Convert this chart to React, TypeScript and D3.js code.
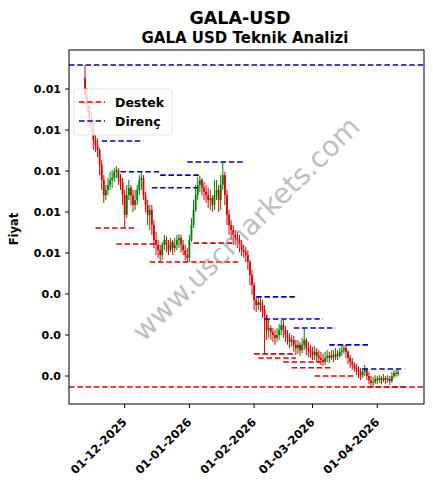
import React from "react";
import * as d3 from "d3";

// ---- data ----
const startDate = "2025-11-12";
const firstOpen = 0.00927;
const closes = [
  0.00885, 0.00861, 0.00829, 0.00812, 0.00776, 0.00763, 0.00751, 0.00715, 0.00678, 0.00641,
  0.00654, 0.00666, 0.00678, 0.00683, 0.00698, 0.00702, 0.00683, 0.00673, 0.00641, 0.00593,
  0.00641, 0.00659, 0.00641, 0.00617, 0.00629, 0.00654, 0.00678, 0.00683, 0.00641, 0.00617,
  0.00593, 0.00605, 0.00568, 0.00532, 0.0052, 0.00507, 0.00495, 0.0052, 0.00532, 0.0052,
  0.00507, 0.00527, 0.00512, 0.0052, 0.00532, 0.00537, 0.0052, 0.00507, 0.00495, 0.00488,
  0.00532, 0.00568, 0.00605, 0.00641, 0.00666, 0.00678, 0.00659, 0.00649, 0.00641, 0.00629,
  0.00634, 0.00617, 0.00641, 0.00654, 0.00629, 0.00666, 0.0069, 0.00641, 0.00593, 0.00568,
  0.00556, 0.00544, 0.00537, 0.00532, 0.0052, 0.00507, 0.00502, 0.00495, 0.00478, 0.00446,
  0.00422, 0.00385, 0.00373, 0.0038, 0.00373, 0.00361, 0.00349, 0.00312, 0.00317, 0.00307,
  0.003, 0.00293, 0.003, 0.00312, 0.00324, 0.00312, 0.003, 0.00293, 0.00283, 0.00288,
  0.00276, 0.00268, 0.00276, 0.00263, 0.00276, 0.00288, 0.00268, 0.00263, 0.00259, 0.00251,
  0.00259, 0.00249, 0.00244, 0.00239, 0.00234, 0.00244, 0.00249, 0.00244, 0.00251, 0.00246,
  0.00254, 0.00249, 0.00259, 0.00263, 0.00268, 0.00259, 0.00244, 0.00234, 0.00227, 0.0022,
  0.00215, 0.0021, 0.00202, 0.0021, 0.00215, 0.002, 0.0019, 0.00183, 0.00185, 0.00193,
  0.0019, 0.00195, 0.0019, 0.00195, 0.0019, 0.00193, 0.00188, 0.002, 0.00207, 0.00205, 0.0021,
];
const highs = [
  0.009585, 0.00902, 0.00854, 0.00844, 0.00824, 0.00788, 0.0078, 0.00756, 0.00727, 0.0069,
  0.00666, 0.00683, 0.00698, 0.00702, 0.00707, 0.00712, 0.00707, 0.00693, 0.00683, 0.00654,
  0.00666, 0.00678, 0.00666, 0.00654, 0.00654, 0.00666, 0.0069, 0.00698, 0.0069, 0.00649,
  0.00629, 0.00617, 0.00617, 0.0058, 0.00551, 0.00532, 0.0052, 0.00527, 0.00544, 0.00541,
  0.00532, 0.00537, 0.00532, 0.00537, 0.00544, 0.00546, 0.00544, 0.00532, 0.0052, 0.00512,
  0.00544, 0.00585, 0.00629, 0.00666, 0.00685, 0.00688, 0.00683, 0.00673, 0.00666, 0.00659,
  0.00654, 0.00641, 0.00678, 0.00678, 0.00666, 0.0069, 0.00722, 0.00698, 0.00654, 0.00605,
  0.0058, 0.00568, 0.00556, 0.00551, 0.00544, 0.00532, 0.0052, 0.00515, 0.00507, 0.00483,
  0.00459, 0.00429, 0.00393, 0.0039, 0.0039, 0.00385, 0.00373, 0.00341, 0.00337, 0.00324,
  0.00317, 0.00312, 0.00317, 0.00327, 0.00337, 0.00337, 0.00322, 0.00312, 0.00305, 0.003,
  0.00298, 0.00288, 0.00288, 0.00283, 0.00293, 0.00317, 0.00293, 0.00283, 0.00276, 0.00271,
  0.00273, 0.00268, 0.00263, 0.00259, 0.00254, 0.00259, 0.00263, 0.00259, 0.00263, 0.00263,
  0.00268, 0.00263, 0.00268, 0.00273, 0.00276, 0.00276, 0.00263, 0.00251, 0.00244, 0.00234,
  0.00229, 0.00224, 0.0022, 0.0022, 0.00227, 0.0022, 0.0021, 0.002, 0.00198, 0.00202,
  0.002, 0.00202, 0.002, 0.00205, 0.002, 0.00202, 0.002, 0.0021, 0.00215, 0.00215, 0.00217,
];
const lows = [
  0.00873, 0.00844, 0.00805, 0.00795, 0.00751, 0.00746, 0.00734, 0.0069, 0.00654, 0.00622,
  0.00629, 0.00641, 0.00654, 0.00659, 0.00673, 0.00683, 0.00666, 0.00654, 0.00617, 0.00561,
  0.00585, 0.00629, 0.00617, 0.006, 0.00605, 0.00617, 0.00641, 0.00654, 0.00629, 0.006,
  0.00568, 0.00556, 0.00544, 0.00512, 0.00495, 0.00488, 0.00478, 0.00483, 0.00507, 0.00502,
  0.00495, 0.00502, 0.00495, 0.00502, 0.00507, 0.00512, 0.00502, 0.00495, 0.00483, 0.00478,
  0.00478, 0.00527, 0.00561, 0.006, 0.00629, 0.00649, 0.00641, 0.00629, 0.00622, 0.0061,
  0.00605, 0.006, 0.00605, 0.00629, 0.006, 0.00605, 0.00654, 0.00617, 0.00568, 0.00544,
  0.00532, 0.0052, 0.0052, 0.00512, 0.00502, 0.00493, 0.00488, 0.00478, 0.00459, 0.00422,
  0.00398, 0.00361, 0.00356, 0.00361, 0.00356, 0.00341, 0.00256, 0.00288, 0.00293, 0.00288,
  0.00283, 0.00276, 0.00283, 0.00288, 0.003, 0.00293, 0.00283, 0.00276, 0.00268, 0.00271,
  0.00259, 0.00251, 0.00254, 0.00249, 0.00256, 0.00263, 0.00251, 0.00246, 0.00244, 0.00239,
  0.00239, 0.00234, 0.00232, 0.00227, 0.00224, 0.00227, 0.00234, 0.00232, 0.00239, 0.00234,
  0.00239, 0.00239, 0.00244, 0.00249, 0.00254, 0.00244, 0.00229, 0.0022, 0.00215, 0.0021,
  0.00202, 0.00195, 0.0019, 0.00195, 0.002, 0.0019, 0.0018, 0.00176, 0.00173, 0.0018,
  0.0018, 0.00183, 0.0018, 0.00185, 0.0018, 0.00183, 0.00178, 0.00183, 0.00195, 0.00198, 0.002,
];

// support (Destek) and resistance (Direnç) levels: [level, from, to]
const supportLevels: [number, string, string][] = [
  [0.00173, "2025-11-04", "2026-04-24"],
  [0.00561, "2025-11-17", "2025-12-06"],
  [0.00522, "2025-11-27", "2025-12-16"],
  [0.00524, "2026-01-03", "2026-01-23"],
  [0.00478, "2025-12-13", "2026-01-25"],
  [0.00254, "2026-02-01", "2026-02-20"],
  [0.00244, "2026-02-03", "2026-02-21"],
  [0.00234, "2026-02-15", "2026-03-05"],
  [0.0022, "2026-02-19", "2026-03-10"],
  [0.002, "2026-03-02", "2026-03-21"],
  [0.00173, "2026-03-27", "2026-04-15"],
];
const resistanceLevels: [number, string, string][] = [
  [0.009585, "2025-11-04", "2026-04-24"],
  [0.00773, "2025-11-20", "2025-12-10"],
  [0.00698, "2025-11-29", "2025-12-18"],
  [0.0069, "2025-12-18", "2026-01-06"],
  [0.00659, "2025-12-14", "2026-01-05"],
  [0.00722, "2025-12-31", "2026-01-27"],
  [0.00393, "2026-02-02", "2026-02-21"],
  [0.00339, "2026-02-06", "2026-03-06"],
  [0.00317, "2026-02-20", "2026-03-12"],
  [0.00276, "2026-03-09", "2026-03-28"],
  [0.00217, "2026-03-25", "2026-04-14"],
];

const yTickValues = [0.002, 0.003, 0.004, 0.005, 0.006, 0.007, 0.008, 0.009];
const xTickDates = ["2025-12-01", "2026-01-01", "2026-02-01", "2026-03-01", "2026-04-01"];

const title = "GALA-USD";
const subtitle = "GALA USD Teknik Analizi";
const yLabel = "Fiyat";
const legendLabels = ["Destek", "Direnç"];
const watermark = "www.uscmarkets.com";

// ---- layout ----
const W = 433;
const H = 489;
const plot = { left: 69, right: 424, top: 50, bottom: 404 };
const FONT = "DejaVu Sans, sans-serif";
const RED = "#e00000";
const BLUE = "#0000c8";

const parse = (s: string) => new Date(s + "T00:00:00Z");

export default function App() {
  const start = parse(startDate);
  const candles = closes.map((c, i) => {
    const date = new Date(start.getTime() + i * 86400000);
    const open = i === 0 ? firstOpen : closes[i - 1];
    return {
      date,
      open,
      close: c,
      high: Math.max(highs[i], open, c),
      low: Math.min(lows[i], open, c),
    };
  });

  const x = d3
    .scaleUtc()
    .domain([new Date(Date.UTC(2025, 10, 4, 8)), new Date(Date.UTC(2026, 3, 23, 9))])
    .range([plot.left, plot.right]);
  const y = d3.scaleLinear().domain([0.0013171, 0.0099512]).range([plot.bottom, plot.top]);

  const fmtY = (v: number) => {
    const r = Math.round(v * 100) / 100;
    return r === 0 ? "0.0" : r.toFixed(2);
  };
  const fmtX = d3.utcFormat("%d-%m-%Y");

  const bodyW = 1.8;

  const levelLine = (lv: [number, string, string], color: string, key: string) => {
    const x1 = Math.max(plot.left, x(parse(lv[1])));
    const x2 = Math.min(plot.right, x(parse(lv[2])));
    return (
      <line
        key={key}
        x1={x1}
        x2={x2}
        y1={y(lv[0])}
        y2={y(lv[0])}
        stroke={color}
        strokeWidth={1.6}
        strokeDasharray="5.5,2.8"
      />
    );
  };

  const wmX = 246;
  const wmY = 229;

  return (
    <svg
      width={W}
      height={H}
      style={{ position: "absolute", left: 0, top: 0, background: "#fff" }}
      fontFamily={FONT}
    >
      <rect x={0} y={0} width={W} height={H} fill="#fff" />
      <text x={240} y={24} textAnchor="middle" fontSize={17.5} fontWeight="bold">
        {title}
      </text>
      <text x={245} y={43} textAnchor="middle" fontSize={15} fontWeight="bold">
        {subtitle}
      </text>

      <defs>
        <clipPath id="plotclip">
          <rect x={plot.left} y={plot.top} width={plot.right - plot.left} height={plot.bottom - plot.top} />
        </clipPath>
      </defs>

      <g clipPath="url(#plotclip)">
        {candles.map((c, i) => {
          const up = c.close >= c.open;
          const col = up ? "#008000" : RED;
          const cx = x(c.date);
          const yo = y(c.open);
          const yc = y(c.close);
          const top = Math.min(yo, yc);
          const h = Math.max(0.8, Math.abs(yo - yc));
          return (
            <g key={i}>
              <line x1={cx} x2={cx} y1={y(c.high)} y2={y(c.low)} stroke={col} strokeWidth={1} />
              <rect x={cx - bodyW / 2} y={top} width={bodyW} height={h} fill={col} />
            </g>
          );
        })}
        {supportLevels.map((lv, i) => levelLine(lv, RED, "s" + i))}
        {resistanceLevels.map((lv, i) => levelLine(lv, BLUE, "r" + i))}
      </g>

      <text
        x={wmX}
        y={wmY}
        textAnchor="middle"
        dominantBaseline="central"
        fontSize={28}
        fill="#999"
        fillOpacity={0.65}
        transform={`rotate(-44.5 ${wmX} ${wmY})`}
      >
        {watermark}
      </text>

      {/* legend */}
      <g>
        <rect x={74} y={89} width={98} height={46} rx={3} fill="#fff" fillOpacity={0.8} stroke="#ddd" strokeOpacity={0.8} />
        <line x1={79} x2={105} y1={102} y2={102} stroke={RED} strokeWidth={1.6} strokeDasharray="5.5,2.8" />
        <text x={115} y={107} fontSize={12.5} fontWeight="bold">
          {legendLabels[0]}
        </text>
        <line x1={79} x2={105} y1={121} y2={121} stroke={BLUE} strokeWidth={1.6} strokeDasharray="5.5,2.8" />
        <text x={115} y={126} fontSize={12.5} fontWeight="bold">
          {legendLabels[1]}
        </text>
      </g>

      {/* frame */}
      <rect
        x={plot.left}
        y={plot.top}
        width={plot.right - plot.left}
        height={plot.bottom - plot.top}
        fill="none"
        stroke="#000"
        strokeWidth={1}
      />

      {/* y axis */}
      {yTickValues.map((v, i) => (
        <g key={"y" + i}>
          <line x1={plot.left - 4} x2={plot.left} y1={y(v)} y2={y(v)} stroke="#000" strokeWidth={1} />
          <text x={plot.left - 8} y={y(v)} dy="0.35em" textAnchor="end" fontSize={11} fontWeight="bold">
            {fmtY(v)}
          </text>
        </g>
      ))}
      <text
        x={14}
        y={229}
        textAnchor="middle"
        dominantBaseline="central"
        fontSize={11.5}
        fontWeight="bold"
        transform={`rotate(-90 14 229)`}
      >
        {yLabel}
      </text>

      {/* x axis */}
      {xTickDates.map((s, i) => {
        const xx = x(parse(s));
        return (
          <g key={"x" + i}>
            <line x1={xx} x2={xx} y1={plot.bottom} y2={plot.bottom + 4} stroke="#000" strokeWidth={1} />
            <text
              x={0}
              y={0}
              textAnchor="end"
              dominantBaseline="central"
              fontSize={11.5}
              fontWeight="bold"
              transform={`translate(${xx},${plot.bottom + 16}) rotate(-45)`}
            >
              {fmtX(parse(s))}
            </text>
          </g>
        );
      })}
    </svg>
  );
}
